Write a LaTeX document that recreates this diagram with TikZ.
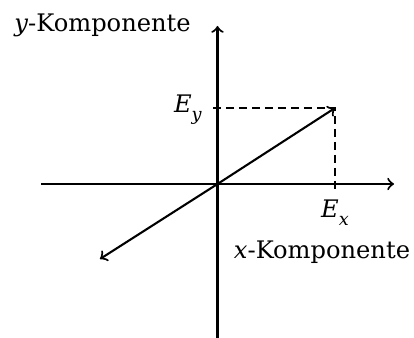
\documentclass[tikz,border=0pt]{standalone}
\usepackage{fontspec}
\setmainfont{DejaVu Serif}
\newcommand{\vsub}[2]{\textit{#1}\raisebox{-0.3em}{\fontsize{6.8}{8}\selectfont\textit{#2}}}
\begin{document}
\begin{tikzpicture}[x=0.385pt,y=-0.385pt,
  axis/.style={line width=0.8pt,-to},
  vec/.style={line width=0.8pt,-to},
  helper/.style={line width=0.4pt,dash pattern=on 3pt off 2pt},
  lbl/.style={inner sep=0pt,font=\fontsize{9.3}{11}\selectfont}]
\useasboundingbox (0,0) rectangle (414,338);
\coordinate (O) at (217.5,184);
\coordinate (xl) at (41,184);
\coordinate (xr) at (394,184);
\coordinate (yb) at (217.5,340);
\coordinate (yt) at (217.5,26);
\coordinate (P) at (335,108);
\coordinate (Q) at (100,259);
\coordinate (Ps) at (213,108);
\coordinate (Pd) at (335,190);
\draw[axis] (xl) -- (xr);
\draw[axis] (yb) -- (yt);
\draw[helper] (Ps) -- (P) -- (Pd);
\draw[vec] (O) -- (P);
\draw[vec] (O) -- (Q);
\node[lbl,anchor=base] (ylab) at (102.5,32) {\textit{y}-Komponente};
\node[lbl,anchor=base] (xlab) at (322,258) {\textit{x}-Komponente};
\node[lbl,anchor=base] (Ey) at (188,113) {\vsub{E}{y}};
\node[lbl,anchor=base] (Ex) at (335,218) {\vsub{E}{x}};
\end{tikzpicture}
\end{document}
